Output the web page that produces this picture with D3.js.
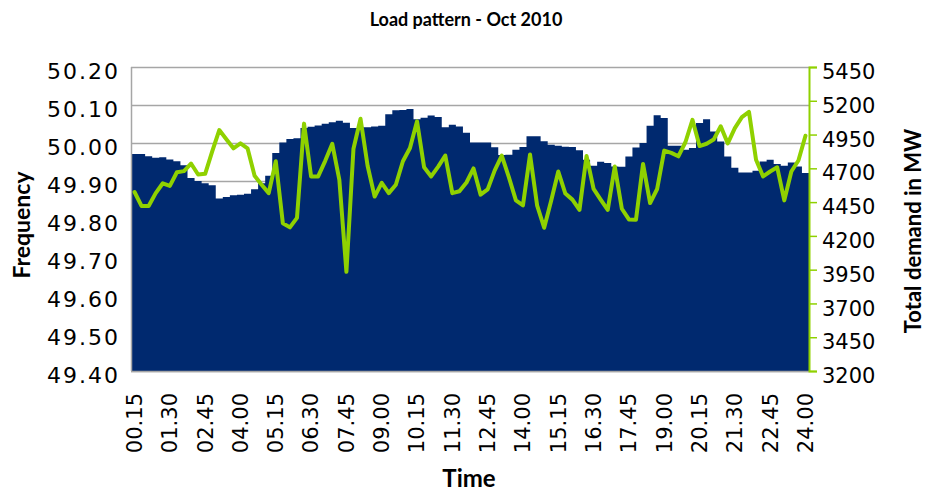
<!DOCTYPE html>
<html>
<head>
<meta charset="utf-8">
<script src="https://cdn.jsdelivr.net/npm/d3@7"></script>
<style>
  body { margin: 0; background: #fff; }
  svg { display: block; }
</style>
</head>
<body>
<div id="chart"></div>
<script>
// 15-minute slots of the day
var times = [
  "00.15","00.30","00.45","01.00","01.15","01.30","01.45","02.00","02.15","02.30","02.45","03.00",
  "03.15","03.30","03.45","04.00","04.15","04.30","04.45","05.00","05.15","05.30","05.45","06.00",
  "06.15","06.30","06.45","07.00","07.15","07.30","07.45","08.00","08.15","08.30","08.45","09.00",
  "09.15","09.30","09.45","10.00","10.15","10.30","10.45","11.00","11.15","11.30","11.45","12.00",
  "12.15","12.30","12.45","13.00","13.15","13.30","13.45","14.00","14.15","14.30","14.45","15.00",
  "15.15","15.30","15.45","16.00","16.15","16.30","16.45","17.00","17.15","17.30","17.45","18.00",
  "18.15","18.30","18.45","19.00","19.15","19.30","19.45","20.00","20.15","20.30","20.45","21.00",
  "21.15","21.30","21.45","22.00","22.15","22.30","22.45","23.00","23.15","23.30","23.45","24.00"
];

// total demand in MW (columns, right axis)
var demand = [
  4806, 4806, 4790, 4779, 4782, 4765, 4753, 4723, 4628, 4606, 4590, 4575,
  4477, 4488, 4501, 4505, 4512, 4546, 4590, 4645, 4813, 4892, 4917, 4923,
  4998, 5008, 5017, 5030, 5041, 5053, 5038, 4998, 5004, 5004, 5010, 5016,
  5101, 5129, 5132, 5139, 5064, 5075, 5091, 5080, 5004, 5023, 5010, 4964,
  4892, 4892, 4892, 4856, 4799, 4801, 4838, 4858, 4938, 4938, 4901, 4875,
  4868, 4860, 4858, 4834, 4764, 4719, 4749, 4739, 4714, 4712, 4788, 4854,
  4887, 5016, 5092, 5073, 4868, 4868, 4838, 4850, 5036, 5064, 4973, 4899,
  4788, 4705, 4670, 4670, 4682, 4751, 4764, 4732, 4719, 4744, 4714, 4665
];

// grid frequency in Hz (line, left axis)
var frequency = [
  49.871, 49.834, 49.834, 49.868, 49.894, 49.887, 49.923, 49.926, 49.946, 49.917, 49.919, 49.978,
  50.034, 50.010, 49.986, 49.999, 49.986, 49.914, 49.890, 49.868, 49.952, 49.789, 49.778, 49.803,
  50.051, 49.912, 49.912, 49.953, 49.998, 49.903, 49.661, 49.985, 50.064, 49.940, 49.859, 49.895,
  49.868, 49.890, 49.952, 49.987, 50.057, 49.936, 49.912, 49.938, 49.967, 49.868, 49.873, 49.896,
  49.933, 49.864, 49.878, 49.928, 49.967, 49.910, 49.849, 49.836, 49.970, 49.836, 49.777, 49.849,
  49.925, 49.867, 49.851, 49.824, 49.966, 49.879, 49.851, 49.824, 49.938, 49.827, 49.799, 49.798,
  49.945, 49.842, 49.879, 49.980, 49.974, 49.965, 50.002, 50.061, 49.992, 49.998, 50.009, 50.044,
  49.999, 50.039, 50.068, 50.082, 49.956, 49.912, 49.925, 49.936, 49.849, 49.925, 49.954, 50.019
];

var freqTicks = [49.40, 49.50, 49.60, 49.70, 49.80, 49.90, 50.00, 50.10, 50.20];
var demandTicks = [3200, 3450, 3700, 3950, 4200, 4450, 4700, 4950, 5200, 5450];
var timeTicks = ["00.15","01.30","02.45","04.00","05.15","06.30","07.45","09.00","10.15","11.30",
                 "12.45","14.00","15.15","16.30","17.45","19.00","20.15","21.30","22.45","24.00"];

var W = 928, H = 492;
var margin = { top: 67, right: 119, bottom: 121, left: 131 };
var width = W - margin.left - margin.right;
var height = H - margin.top - margin.bottom;

var barColour = "#00296f";
var lineColour = "#8fd100";
var gridColour = "#a6a6a6";
var tickFont = "'DejaVu Sans', Verdana, sans-serif";
var titleFont = "Lato, 'Open Sans', sans-serif";

var svg = d3.select("#chart")
  .append("svg")
  .attr("width", W)
  .attr("height", H);

var g = svg.append("g")
  .attr("transform", "translate(" + margin.left + "," + margin.top + ")");

var x_scale = d3.scaleBand()
  .domain(times)
  .range([0, width])
  .padding(0);

var yFreq = d3.scaleLinear()
  .domain([49.40, 50.20])
  .range([height, 0]);

var yDemand = d3.scaleLinear()
  .domain([3200, 5450])
  .range([height, 0]);

// gridlines from the left axis
g.append("g")
  .attr("class", "grid")
  .selectAll("line")
  .data(freqTicks)
  .enter()
  .append("line")
  .attr("x1", 0)
  .attr("x2", width)
  .attr("y1", function (d) { return Math.round(yFreq(d)) + 0.5; })
  .attr("y2", function (d) { return Math.round(yFreq(d)) + 0.5; })
  .attr("stroke", gridColour)
  .attr("stroke-width", 1.5);

// demand columns with no gap: one stepped shape so no seams show
var barEdges = [];
demand.forEach(function (d, i) {
  barEdges.push({ x: x_scale(times[i]), v: d });
  barEdges.push({ x: x_scale(times[i]) + x_scale.bandwidth(), v: d });
});

var bars = d3.area()
  .x(function (d) { return d.x; })
  .y0(height)
  .y1(function (d) { return yDemand(d.v); });

g.append("path")
  .datum(barEdges)
  .attr("class", "bar")
  .attr("d", bars)
  .attr("fill", barColour);

// left plot border and bottom axis line
g.append("line")
  .attr("x1", 0.5).attr("x2", 0.5)
  .attr("y1", 0).attr("y2", height)
  .attr("stroke", gridColour)
  .attr("stroke-width", 1.5);

g.append("line")
  .attr("x1", 0).attr("x2", width)
  .attr("y1", height + 0.5).attr("y2", height + 0.5)
  .attr("stroke", gridColour)
  .attr("stroke-width", 1.5);

// frequency line
var line = d3.line()
  .x(function (d, i) { return x_scale(times[i]) + x_scale.bandwidth() / 2; })
  .y(function (d) { return yFreq(d); });

g.append("path")
  .datum(frequency)
  .attr("d", line)
  .attr("fill", "none")
  .attr("stroke", lineColour)
  .attr("stroke-width", 4)
  .attr("stroke-linejoin", "round")
  .attr("stroke-linecap", "round");

// left axis
var y_axis = d3.axisLeft(yFreq)
  .tickValues(freqTicks)
  .tickFormat(d3.format(".2f"))
  .tickSize(0)
  .tickPadding(11);

var leftAxis = g.append("g")
  .attr("class", "y axis")
  .call(y_axis);
leftAxis.select(".domain").remove();
leftAxis.selectAll("text")
  .style("font-family", tickFont)
  .style("font-size", "22px")
  .style("letter-spacing", "2px")
  .attr("dy", "0.52em")
  .attr("fill", "#000");

// right axis (green)
var y_axis2 = d3.axisRight(yDemand)
  .tickValues(demandTicks)
  .tickFormat(d3.format("d"))
  .tickSize(8)
  .tickPadding(5);

var rightAxis = g.append("g")
  .attr("class", "y2 axis")
  .attr("transform", "translate(" + width + ",0)")
  .call(y_axis2);
rightAxis.select(".domain")
  .attr("stroke", lineColour)
  .attr("stroke-width", 2);
rightAxis.selectAll(".tick line")
  .attr("stroke", lineColour)
  .attr("stroke-width", 1.5);
rightAxis.selectAll("text")
  .style("font-family", tickFont)
  .style("font-size", "21px")
  .attr("dy", "0.55em")
  .attr("fill", "#000");

// bottom axis, rotated labels
var x_axis = d3.axisBottom(x_scale)
  .tickValues(timeTicks)
  .tickSize(0)
  .tickPadding(0);

var bottomAxis = g.append("g")
  .attr("class", "x axis")
  .attr("transform", "translate(0," + height + ")")
  .call(x_axis);
bottomAxis.select(".domain").remove();
bottomAxis.selectAll("text")
  .style("font-family", tickFont)
  .style("font-size", "21px")
  .attr("fill", "#000")
  .attr("text-anchor", "end")
  .attr("transform", "rotate(-90)")
  .attr("x", -22)
  .attr("y", 0)
  .attr("dy", "0.35em");

// titles
svg.append("text")
  .attr("x", 466)
  .attr("y", 26)
  .attr("text-anchor", "middle")
  .style("font-family", titleFont)
  .style("font-size", "18px")
  .style("font-weight", "bold")
  .text("Load pattern - Oct 2010");

svg.append("text")
  .attr("transform", "translate(30,225) rotate(-90)")
  .attr("text-anchor", "middle")
  .style("font-family", titleFont)
  .style("font-size", "23px")
  .style("font-weight", "bold")
  .text("Frequency");

svg.append("text")
  .attr("transform", "translate(921,231) rotate(-90)")
  .attr("text-anchor", "middle")
  .style("font-family", titleFont)
  .style("font-size", "22px")
  .style("font-weight", "bold")
  .text("Total demand in MW");

svg.append("text")
  .attr("x", 469)
  .attr("y", 487)
  .attr("text-anchor", "middle")
  .style("font-family", titleFont)
  .style("font-size", "24px")
  .style("font-weight", "bold")
  .text("Time");
</script>
</body>
</html>
